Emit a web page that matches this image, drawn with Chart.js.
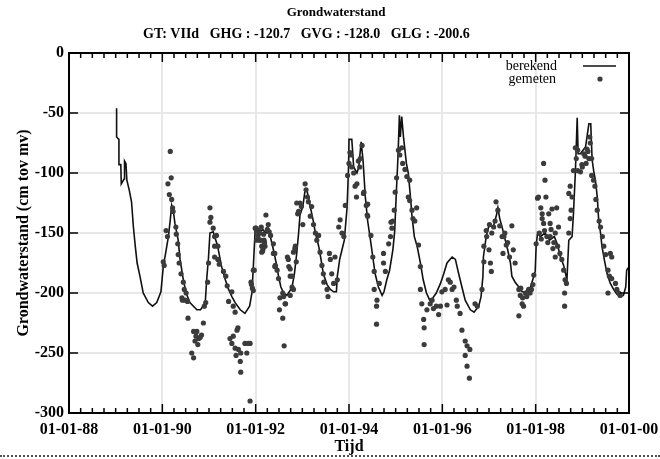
<!DOCTYPE html>
<html>
<head>
<meta charset="utf-8">
<script src="https://cdn.jsdelivr.net/npm/chart.js@4.4.1/dist/chart.umd.min.js"></script>
<style>
  html, body { margin: 0; padding: 0; background: #fff; }
  #wrap { position: relative; width: 660px; height: 459px; }
  #dots { position: absolute; left: 0; top: 455px; width: 660px; border-top: 2px dotted #555; }
</style>
</head>
<body>
<div id="wrap">
  <canvas id="chart" width="660" height="459"></canvas>
  <div id="dots"></div>
</div>
<script>
// tijd in decimale jaren, stand in cm tov mv
const TITLE = "Grondwaterstand";
const SUBTITLE = "GT: VIId   GHG : -120.7   GVG : -128.0   GLG : -200.6";
const X_TICKS = [1988, 1990, 1992, 1994, 1996, 1998, 2000];
const Y_TICKS = [0, -50, -100, -150, -200, -250, -300];

// berekend (model)
const berekend1989 = [[1989.02,-46],[1989.02,-70],[1989.07,-72],[1989.07,-93],[1989.11,-93],[1989.12,-109],[1989.18,-105],[1989.19,-90],[1989.22,-92],[1989.24,-106],[1989.29,-114],[1989.34,-124],[1989.38,-145],[1989.42,-161],[1989.46,-175],[1989.52,-186],[1989.59,-200],[1989.70,-208],[1989.79,-211],[1989.88,-208],[1989.97,-199]];
const berekend1990 = [[1990.02,-178],[1990.07,-167],[1990.13,-153],[1990.17,-139],[1990.20,-127],[1990.24,-133],[1990.27,-142],[1990.34,-156],[1990.38,-172],[1990.45,-189],[1990.51,-200],[1990.59,-208],[1990.74,-214],[1990.82,-214],[1990.92,-208],[1990.95,-189],[1990.99,-170]];
const berekend1991 = [[1991.02,-150],[1991.09,-149],[1991.12,-153],[1991.17,-159],[1991.20,-164],[1991.27,-178],[1991.35,-189],[1991.42,-197],[1991.49,-203],[1991.56,-208],[1991.67,-214],[1991.77,-217],[1991.87,-211],[1991.92,-200],[1991.95,-178],[1991.99,-147]];
const berekend1992 = [[1992.03,-146],[1992.10,-149],[1992.15,-147],[1992.22,-150],[1992.27,-149],[1992.32,-154],[1992.38,-164],[1992.44,-175],[1992.49,-186],[1992.54,-195],[1992.60,-200],[1992.67,-202],[1992.72,-199],[1992.78,-195],[1992.83,-184],[1992.88,-167],[1992.92,-150],[1992.95,-135]];
const berekend1993 = [[1993.01,-128],[1993.06,-114],[1993.10,-115],[1993.13,-120],[1993.17,-128],[1993.23,-139],[1993.28,-150],[1993.35,-161],[1993.40,-172],[1993.45,-184],[1993.53,-193],[1993.60,-197],[1993.67,-199],[1993.73,-199],[1993.75,-186],[1993.80,-172],[1993.85,-164],[1993.90,-156],[1993.96,-128],[1993.99,-95]];
const berekend1994 = [[1994.00,-72],[1994.06,-72],[1994.10,-95],[1994.17,-100],[1994.21,-95],[1994.26,-74],[1994.30,-89],[1994.35,-120],[1994.40,-140],[1994.46,-156],[1994.51,-170],[1994.56,-184],[1994.63,-195],[1994.71,-202],[1994.75,-199],[1994.81,-189],[1994.87,-181],[1994.94,-164],[1994.98,-148]];
const berekend1995 = [[1995.01,-120],[1995.05,-86],[1995.08,-52],[1995.10,-70],[1995.13,-53],[1995.17,-71],[1995.23,-92],[1995.27,-100],[1995.31,-117],[1995.35,-136],[1995.40,-153],[1995.46,-161],[1995.53,-175],[1995.59,-189],[1995.66,-200],[1995.73,-206],[1995.80,-204],[1995.87,-200],[1995.96,-192]];
const berekend1996 = [[1996.03,-184],[1996.10,-175],[1996.21,-170],[1996.28,-172],[1996.35,-184],[1996.42,-195],[1996.49,-206],[1996.60,-214],[1996.68,-216],[1996.78,-211],[1996.83,-203],[1996.87,-186],[1996.88,-170],[1996.94,-153],[1996.99,-145]];
const berekend1997 = [[1997.04,-144],[1997.10,-144],[1997.16,-135],[1997.19,-129],[1997.23,-138],[1997.28,-145],[1997.33,-153],[1997.40,-164],[1997.46,-175],[1997.49,-186],[1997.56,-191],[1997.64,-195],[1997.71,-199],[1997.78,-199],[1997.89,-195],[1997.96,-186],[1997.99,-182]];
const berekend1998 = [[1998.01,-161],[1998.04,-150],[1998.10,-153],[1998.20,-150],[1998.30,-156],[1998.40,-153],[1998.47,-160],[1998.53,-170],[1998.60,-177],[1998.67,-189],[1998.71,-156],[1998.78,-153],[1998.81,-134],[1998.85,-100],[1998.87,-78],[1998.89,-54],[1998.91,-84],[1998.96,-84]];
const berekend1999 = [[1999.07,-78],[1999.14,-59],[1999.18,-59],[1999.21,-89],[1999.25,-100],[1999.28,-106],[1999.32,-120],[1999.35,-139],[1999.39,-150],[1999.42,-161],[1999.47,-172],[1999.53,-184],[1999.60,-192],[1999.67,-197],[1999.74,-201],[1999.81,-203],[1999.88,-202],[1999.93,-195],[1999.95,-181],[2000.00,-178]];

// gemeten (metingen)
const gemeten1990 = [[1990.02,-174],[1990.04,-177],[1990.08,-148],[1990.11,-153],[1990.12,-109],[1990.15,-118],[1990.17,-82],[1990.19,-104],[1990.20,-122],[1990.22,-129],[1990.23,-132],[1990.29,-145],[1990.30,-151],[1990.33,-159],[1990.34,-168],[1990.36,-175],[1990.40,-184],[1990.42,-204],[1990.43,-206],[1990.45,-191],[1990.47,-197],[1990.49,-206],[1990.51,-200],[1990.54,-207],[1990.55,-221],[1990.63,-250],[1990.67,-232],[1990.67,-254],[1990.70,-240],[1990.72,-236],[1990.74,-232],[1990.76,-243],[1990.78,-238],[1990.81,-237],[1990.84,-235],[1990.88,-225],[1990.90,-211],[1990.93,-208],[1990.97,-191],[1990.99,-175]];
const gemeten1991 = [[1991.02,-129],[1991.02,-141],[1991.04,-137],[1991.09,-146],[1991.12,-153],[1991.12,-161],[1991.12,-170],[1991.16,-152],[1991.19,-161],[1991.19,-172],[1991.22,-176],[1991.31,-182],[1991.36,-186],[1991.39,-194],[1991.42,-207],[1991.45,-238],[1991.49,-199],[1991.49,-242],[1991.52,-211],[1991.52,-236],[1991.56,-216],[1991.56,-246],[1991.58,-252],[1991.60,-231],[1991.62,-229],[1991.63,-247],[1991.67,-257],[1991.68,-250],[1991.68,-266],[1991.77,-242],[1991.81,-250],[1991.84,-242],[1991.88,-290],[1991.88,-242],[1991.90,-191],[1991.91,-193],[1991.93,-196],[1991.95,-198],[1991.95,-181],[1991.97,-181]];
const gemeten1992 = [[1991.99,-146],[1992.01,-146],[1992.02,-148],[1992.02,-156],[1992.05,-152],[1992.06,-148],[1992.08,-150],[1992.09,-156],[1992.10,-156],[1992.12,-145],[1992.13,-161],[1992.13,-166],[1992.15,-165],[1992.16,-163],[1992.17,-151],[1992.18,-156],[1992.19,-158],[1992.20,-161],[1992.22,-135],[1992.25,-147],[1992.27,-143],[1992.29,-149],[1992.32,-152],[1992.38,-159],[1992.38,-167],[1992.41,-167],[1992.41,-178],[1992.42,-177],[1992.46,-181],[1992.49,-188],[1992.51,-214],[1992.52,-204],[1992.58,-200],[1992.58,-221],[1992.60,-203],[1992.61,-244],[1992.63,-209],[1992.64,-209],[1992.68,-170],[1992.70,-172],[1992.71,-178],[1992.74,-180],[1992.74,-186],[1992.74,-202],[1992.78,-186],[1992.78,-195],[1992.81,-166],[1992.81,-197],[1992.84,-163],[1992.85,-161],[1992.87,-174],[1992.88,-125],[1992.90,-134],[1992.92,-132],[1992.95,-125],[1992.98,-128]];
const gemeten1993 = [[1993.01,-143],[1993.06,-109],[1993.08,-114],[1993.11,-120],[1993.13,-124],[1993.17,-136],[1993.20,-128],[1993.24,-143],[1993.28,-150],[1993.31,-156],[1993.35,-152],[1993.38,-166],[1993.42,-177],[1993.45,-184],[1993.46,-191],[1993.53,-197],[1993.55,-203],[1993.58,-167],[1993.60,-172],[1993.63,-184],[1993.67,-192],[1993.70,-170],[1993.75,-189],[1993.78,-145],[1993.81,-139],[1993.85,-150],[1993.89,-153],[1993.92,-127],[1993.97,-102]];
const gemeten1994 = [[1994.00,-92],[1994.02,-83],[1994.04,-85],[1994.06,-95],[1994.10,-100],[1994.13,-111],[1994.16,-120],[1994.17,-109],[1994.20,-90],[1994.23,-95],[1994.24,-88],[1994.28,-77],[1994.31,-117],[1994.32,-116],[1994.37,-127],[1994.39,-135],[1994.40,-126],[1994.40,-136],[1994.47,-152],[1994.51,-170],[1994.54,-182],[1994.54,-197],[1994.59,-211],[1994.59,-226],[1994.60,-206],[1994.65,-192],[1994.74,-167],[1994.74,-175],[1994.78,-182],[1994.85,-159],[1994.89,-153],[1994.90,-141],[1994.92,-146],[1994.94,-140],[1994.97,-131],[1994.99,-116]];
const gemeten1995 = [[1995.02,-104],[1995.06,-81],[1995.09,-85],[1995.13,-79],[1995.15,-92],[1995.20,-97],[1995.24,-103],[1995.27,-120],[1995.30,-106],[1995.30,-123],[1995.35,-131],[1995.37,-138],[1995.41,-140],[1995.45,-129],[1995.49,-160],[1995.53,-178],[1995.53,-197],[1995.56,-209],[1995.60,-222],[1995.61,-229],[1995.61,-243],[1995.67,-214],[1995.74,-209],[1995.78,-206],[1995.81,-213],[1995.87,-211],[1995.92,-218],[1995.96,-211],[1995.99,-199]];
const gemeten1996 = [[1996.06,-197],[1996.10,-210],[1996.13,-189],[1996.17,-191],[1996.21,-197],[1996.25,-195],[1996.30,-206],[1996.32,-211],[1996.38,-217],[1996.42,-231],[1996.49,-240],[1996.49,-252],[1996.53,-244],[1996.53,-261],[1996.58,-271],[1996.59,-247],[1996.70,-209],[1996.75,-211],[1996.85,-197],[1996.89,-174],[1996.89,-161],[1996.94,-148],[1996.95,-153]];
const gemeten1997 = [[1997.00,-164],[1997.01,-143],[1997.03,-175],[1997.05,-182],[1997.06,-150],[1997.10,-145],[1997.13,-140],[1997.15,-124],[1997.19,-131],[1997.23,-144],[1997.28,-153],[1997.30,-167],[1997.32,-153],[1997.34,-150],[1997.37,-160],[1997.40,-158],[1997.44,-170],[1997.49,-144],[1997.52,-164],[1997.56,-175],[1997.64,-197],[1997.64,-219],[1997.67,-202],[1997.68,-196],[1997.71,-209],[1997.72,-204],[1997.74,-211],[1997.78,-200],[1997.81,-203],[1997.85,-197],[1997.88,-200],[1997.91,-197],[1997.94,-193],[1997.96,-185]];
const gemeten1998 = [[1998.01,-159],[1998.04,-121],[1998.06,-120],[1998.08,-150],[1998.11,-129],[1998.12,-155],[1998.14,-134],[1998.14,-138],[1998.17,-92],[1998.17,-142],[1998.19,-148],[1998.20,-106],[1998.22,-120],[1998.24,-153],[1998.26,-158],[1998.28,-134],[1998.31,-142],[1998.31,-153],[1998.33,-147],[1998.35,-130],[1998.37,-163],[1998.39,-158],[1998.42,-150],[1998.42,-170],[1998.45,-129],[1998.47,-161],[1998.49,-145],[1998.52,-167],[1998.56,-172],[1998.60,-181],[1998.62,-200],[1998.62,-211],[1998.63,-189],[1998.66,-192],[1998.71,-150],[1998.71,-117],[1998.74,-138],[1998.74,-111],[1998.76,-131],[1998.78,-120],[1998.81,-98],[1998.85,-79],[1998.87,-88],[1998.90,-81],[1998.90,-98],[1998.96,-99],[1998.99,-93]];
const gemeten1999 = [[1999.00,-95],[1999.03,-84],[1999.06,-86],[1999.08,-92],[1999.10,-80],[1999.12,-82],[1999.14,-88],[1999.16,-70],[1999.17,-75],[1999.20,-88],[1999.20,-102],[1999.24,-106],[1999.27,-111],[1999.29,-122],[1999.32,-131],[1999.36,-140],[1999.39,-145],[1999.43,-153],[1999.46,-161],[1999.50,-168],[1999.55,-181],[1999.55,-200],[1999.58,-186],[1999.60,-167],[1999.63,-170],[1999.63,-188],[1999.71,-192],[1999.74,-197],[1999.78,-200],[1999.81,-202]];

const SERIF = "'Liberation Serif', 'Times New Roman', serif";
const GRID = "#e8e8e8";

const toXY = (rows) => rows.map(([x, y]) => ({ x, y }));

const berekend = [berekend1989, berekend1990, berekend1991, berekend1992, berekend1993,
  berekend1994, berekend1995, berekend1996, berekend1997, berekend1998, berekend1999].flat();
const gemeten = [gemeten1990, gemeten1991, gemeten1992, gemeten1993, gemeten1994,
  gemeten1995, gemeten1996, gemeten1997, gemeten1998, gemeten1999].flat();

function yearLabel(v) {
  return "01-01-" + String(Math.round(v) % 100).padStart(2, "0");
}

// titel, kader met ticks naar binnen en legenda
const decor = {
  id: "decor",
  afterDraw(chart) {
    const { ctx, chartArea: a, scales: { x, y } } = chart;
    ctx.save();
    ctx.fillStyle = "#000";
    ctx.textBaseline = "middle";
    ctx.font = "bold 13px " + SERIF;
    ctx.textAlign = "center";
    ctx.fillText(TITLE, 336, 13);
    ctx.font = "bold 14px " + SERIF;
    ctx.textAlign = "left";
    ctx.fillText(SUBTITLE, 143, 34);

    ctx.strokeStyle = "#000";
    ctx.lineWidth = 2;
    ctx.strokeRect(a.left, a.top, a.right - a.left, a.bottom - a.top);

    ctx.lineWidth = 1.5;
    ctx.beginPath();
    for (let q = 0; q <= 48; q++) {
      const px = x.getPixelForValue(1988 + q / 4);
      const len = q % 8 === 0 ? 9 : 5;
      ctx.moveTo(px, a.bottom); ctx.lineTo(px, a.bottom - len);
      ctx.moveTo(px, a.top); ctx.lineTo(px, a.top + len);
    }
    Y_TICKS.forEach((v) => {
      const py = y.getPixelForValue(v);
      ctx.moveTo(a.left, py); ctx.lineTo(a.left + 9, py);
      ctx.moveTo(a.right, py); ctx.lineTo(a.right - 9, py);
    });
    ctx.stroke();

    // legenda
    ctx.font = "14px " + SERIF;
    ctx.textAlign = "right";
    ctx.fillText("berekend", 557, 66);
    ctx.fillText("gemeten", 556, 79);
    ctx.lineWidth = 1.6;
    ctx.strokeStyle = "#111";
    ctx.beginPath();
    ctx.moveTo(583, 66); ctx.lineTo(616, 66);
    ctx.stroke();
    ctx.fillStyle = "#3b3b3b";
    ctx.beginPath();
    ctx.arc(600, 79, 2.6, 0, Math.PI * 2);
    ctx.fill();
    ctx.restore();
  },
};

new Chart(document.getElementById("chart"), {
  data: {
    datasets: [
      {
        type: "scatter",
        label: "gemeten",
        data: toXY(gemeten),
        order: 0,
        pointRadius: 2.6,
        pointHoverRadius: 2.6,
        pointBackgroundColor: "#3b3b3b",
        pointBorderWidth: 0,
      },
      {
        type: "line",
        label: "berekend",
        data: toXY(berekend),
        order: 1,
        borderColor: "#111",
        borderWidth: 1.6,
        pointRadius: 0,
        tension: 0,
        fill: false,
      },
    ],
  },
  options: {
    responsive: false,
    animation: false,
    devicePixelRatio: 1,
    layout: { padding: { top: 53, right: 31, left: 0, bottom: 0 } },
    plugins: { legend: { display: false }, tooltip: { enabled: false } },
    scales: {
      x: {
        type: "linear",
        min: 1988,
        max: 2000,
        afterBuildTicks: (s) => { s.ticks = X_TICKS.map((value) => ({ value })); },
        afterFit: (s) => { s.height = 46; s.paddingLeft = 0; s.paddingRight = 0; },
        grid: {
          color: (c) => (c.tick && (c.tick.value === 1988 || c.tick.value === 2000) ? "rgba(0,0,0,0)" : GRID),
          lineWidth: 2,
          drawTicks: false,
        },
        border: { display: false },
        ticks: {
          autoSkip: false,
          maxRotation: 0,
          padding: 7,
          color: "#000",
          font: { family: SERIF, size: 16, weight: "bold" },
          callback: (v) => yearLabel(v),
        },
        title: {
          display: true,
          text: "Tijd",
          color: "#000",
          font: { family: SERIF, size: 16, weight: "bold" },
          padding: { top: 0, bottom: 3 },
        },
      },
      y: {
        type: "linear",
        min: -300,
        max: 0,
        afterBuildTicks: (s) => { s.ticks = Y_TICKS.map((value) => ({ value })); },
        afterFit: (s) => { s.width = 69; s.paddingTop = 0; s.paddingBottom = 0; },
        grid: {
          color: (c) => (c.tick && (c.tick.value === 0 || c.tick.value === -300) ? "rgba(0,0,0,0)" : GRID),
          lineWidth: 2,
          drawTicks: false,
        },
        border: { display: false },
        ticks: {
          padding: 5,
          color: "#000",
          font: { family: SERIF, size: 16, weight: "bold" },
        },
        title: {
          display: true,
          text: "Grondwaterstand (cm tov mv)",
          color: "#000",
          font: { family: SERIF, size: 16, weight: "bold" },
          padding: { top: 14, bottom: 0 },
        },
      },
    },
  },
  plugins: [decor],
});
</script>
</body>
</html>
